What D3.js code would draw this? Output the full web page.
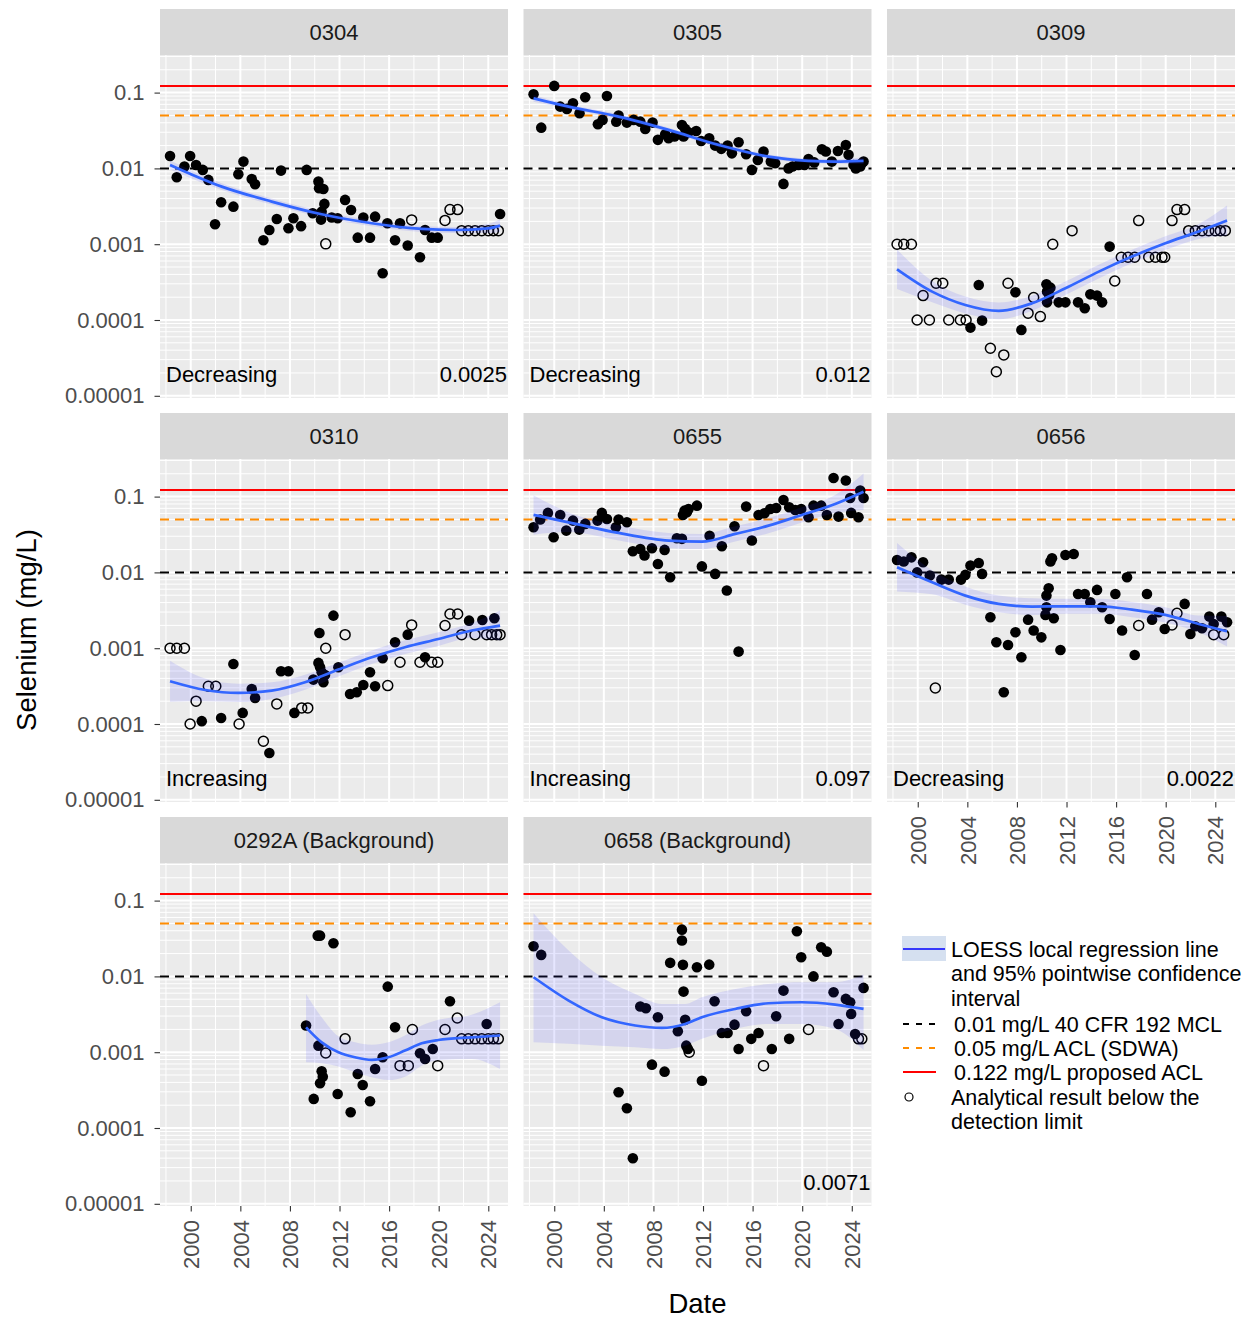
<!DOCTYPE html>
<html>
<head>
<meta charset="utf-8">
<script src="https://cdn.jsdelivr.net/npm/d3@7"></script>
<style>
body { margin: 0; background: #fff; }
text { font-family: "Liberation Sans", Arial, Helvetica, sans-serif; }
</style>
</head>
<body>
<script>
// ---- data: [decimal year, selenium mg/L, below detection limit (1) ] ----
var pts0304 = [[1998.33,0.0146,0],[1998.87,0.00764,0],[1999.49,0.0106,0],[1999.95,0.0146,0],[2000.43,0.0111,0],[2000.97,0.00955,0],[2001.42,0.00705,0],[2001.96,0.00183,0],[2002.45,0.00357,0],[2003.44,0.00313,0],[2003.84,0.00838,0],[2004.25,0.0123,0],[2004.92,0.00726,0],[2005.19,0.00618,0],[2005.86,0.00113,0],[2006.34,0.00154,0],[2006.94,0.00215,0],[2007.28,0.00935,0],[2007.88,0.00162,0],[2008.28,0.0022,0],[2008.9,0.00173,0],[2009.35,0.00955,0],[2009.84,0.00256,0],[2010.3,0.0067,0],[2010.35,0.00547,0],[2010.7,0.00536,0],[2010.78,0.0034,0],[2010.51,0.00211,0],[2010.56,0.00269,0],[2011.37,0.00225,0],[2011.85,0.0022,0],[2012.45,0.00384,0],[2012.93,0.00283,0],[2013.47,0.00122,0],[2013.92,0.00225,0],[2014.46,0.00122,0],[2014.87,0.00231,0],[2015.48,0.000414,0],[2015.86,0.00189,0],[2016.48,0.00113,0],[2016.88,0.00189,0],[2017.5,0.00096,0],[2018.49,0.000673,0],[2018.9,0.00154,0],[2019.44,0.00122,0],[2019.92,0.00122,0],[2024.95,0.0025,0],
  [2010.89,0.00101,1],[2017.82,0.00209,1],[2020.51,0.00206,1],[2020.91,0.00286,1],[2021.53,0.00286,1],[2021.85,0.00151,1],[2022.39,0.00151,1],[2022.93,0.00151,1],[2023.47,0.00151,1],[2024.0,0.00151,1],[2024.41,0.00151,1],[2024.81,0.00151,1]];

var pts0305 = [[1998.33,0.0951,0],[1998.95,0.0345,0],[2000.0,0.1225,0],[2000.48,0.0653,0],[2001.02,0.0609,0],[2001.51,0.0723,0],[2002.04,0.0534,0],[2002.5,0.0868,0],[2003.52,0.0382,0],[2003.9,0.0436,0],[2004.25,0.0903,0],[2005.0,0.0414,0],[2005.19,0.0498,0],[2005.86,0.0402,0],[2006.4,0.0436,0],[2006.94,0.0414,0],[2007.34,0.0332,0],[2007.93,0.0402,0],[2008.36,0.0238,0],[2008.95,0.0282,0],[2009.22,0.025,0],[2009.7,0.0263,0],[2010.3,0.0374,0],[2010.43,0.0263,0],[2010.56,0.0332,0],[2010.83,0.030,0],[2011.45,0.0312,0],[2011.85,0.023,0],[2012.5,0.025,0],[2012.98,0.020,0],[2013.47,0.0181,0],[2013.98,0.020,0],[2014.33,0.0158,0],[2014.87,0.0221,0],[2015.48,0.0154,0],[2015.94,0.00955,0],[2016.42,0.0129,0],[2016.88,0.0167,0],[2017.47,0.0123,0],[2017.82,0.0117,0],[2018.49,0.00624,0],[2018.9,0.01,0],[2019.22,0.0106,0],[2019.7,0.0111,0],[2020.19,0.0111,0],[2020.51,0.0133,0],[2020.97,0.012,0],[2021.59,0.0179,0],[2021.91,0.0167,0],[2022.39,0.0123,0],[2022.88,0.017,0],[2023.52,0.0204,0],[2023.74,0.0151,0],[2024.14,0.0111,0],[2024.33,0.01,0],[2024.68,0.0106,0],[2024.81,0.0117,0],[2024.95,0.0123,0]];

var pts0309 = [[1998.33,0.001,1],[1998.87,0.001,1],[1999.49,0.001,1],[2000.43,0.00021,1],[1999.95,0.0001,1],[2000.94,0.0001,1],[2001.48,0.000305,1],[2002.02,0.000305,1],[2002.5,0.0001,1],[2003.44,0.0001,1],[2003.9,0.0001,1],[2005.86,0.0000424,1],[2006.34,0.0000208,1],[2006.94,0.0000346,1],[2007.28,0.000305,1],[2008.9,0.000123,1],[2009.35,0.000198,1],[2009.89,0.000111,1],[2010.89,0.001,1],[2012.45,0.00151,1],[2015.89,0.000327,1],[2016.42,0.000673,1],[2016.96,0.000673,1],[2017.5,0.000673,1],[2017.82,0.00205,1],[2018.63,0.000673,1],[2019.17,0.000673,1],[2019.7,0.000673,1],[2019.92,0.000673,1],[2020.51,0.00205,1],[2020.91,0.00286,1],[2021.53,0.00286,1],[2021.85,0.00151,1],[2022.39,0.00151,1],[2022.93,0.00151,1],[2023.47,0.00151,1],[2024.0,0.00151,1],[2024.41,0.00151,1],[2024.81,0.00151,1],
  [2004.92,0.00029,0],[2005.19,0.0000982,0],[2004.25,0.0000794,0],[2007.88,0.000232,0],[2008.36,0.000074,0],[2010.38,0.000296,0],[2010.7,0.000267,0],[2010.43,0.000237,0],[2010.6,0.000214,0],[2010.43,0.000171,0],[2011.37,0.000171,0],[2011.91,0.000171,0],[2012.93,0.000171,0],[2013.47,0.000143,0],[2013.92,0.000218,0],[2014.46,0.00021,0],[2014.87,0.000171,0],[2015.48,0.00093,0]];

var pts0310 = [[1998.33,0.001,1],[1998.87,0.001,1],[1999.49,0.001,1],[1999.95,0.0001,1],[2000.43,0.0002,1],[2001.42,0.000315,1],[2002.02,0.000315,1],[2003.9,0.0001,1],[2005.86,0.0000592,1],[2006.94,0.000184,1],[2008.95,0.000163,1],[2009.44,0.000163,1],[2010.89,0.001,1],[2012.45,0.00151,1],[2015.89,0.000321,1],[2016.88,0.000652,1],[2017.82,0.00203,1],[2018.49,0.000652,1],[2019.44,0.000652,1],[2019.92,0.000652,1],[2020.51,0.00199,1],[2020.91,0.00283,1],[2021.53,0.00283,1],[2021.85,0.00151,1],[2022.93,0.00151,1],[2023.87,0.00151,1],[2024.27,0.00151,1],[2024.68,0.00151,1],[2024.95,0.00151,1],
  [2000.89,0.000109,0],[2002.45,0.00012,0],[2003.44,0.00062,0],[2004.19,0.00014,0],[2004.92,0.00029,0],[2005.19,0.000221,0],[2006.34,0.0000415,0],[2007.28,0.000497,0],[2007.88,0.000497,0],[2008.36,0.00014,0],[2009.89,0.000385,0],[2010.38,0.00159,0],[2010.3,0.00064,0],[2010.43,0.000561,0],[2010.56,0.000482,0],[2010.7,0.000356,0],[2010.83,0.000444,0],[2011.51,0.00269,0],[2011.91,0.000561,0],[2012.85,0.000249,0],[2013.39,0.000262,0],[2013.92,0.000327,0],[2014.46,0.000482,0],[2014.87,0.000315,0],[2015.48,0.000736,0],[2016.48,0.0012,0],[2017.5,0.00151,0],[2018.9,0.000759,0],[2022.45,0.00231,0],[2023.52,0.00236,0],[2024.49,0.00248,0]];

var pts0655 = [[1998.33,0.0394,0],[1998.87,0.0498,0],[1999.49,0.0609,0],[1999.95,0.0291,0],[2000.48,0.0573,0],[2000.97,0.0356,0],[2001.51,0.0482,0],[2002.02,0.0367,0],[2002.5,0.0436,0],[2003.49,0.0482,0],[2003.84,0.0609,0],[2004.25,0.0507,0],[2004.97,0.0394,0],[2005.19,0.0498,0],[2005.86,0.0458,0],[2006.34,0.019,0],[2006.94,0.0204,0],[2007.28,0.0167,0],[2007.88,0.0208,0],[2008.36,0.0129,0],[2008.9,0.0198,0],[2009.35,0.00863,0],[2009.89,0.0282,0],[2010.3,0.0277,0],[2010.38,0.0573,0],[2010.51,0.0653,0],[2010.7,0.0621,0],[2010.83,0.0687,0],[2011.51,0.076,0],[2011.91,0.012,0],[2012.53,0.0305,0],[2012.98,0.00955,0],[2013.52,0.0221,0],[2013.92,0.00576,0],[2014.54,0.0406,0],[2014.87,0.000902,0],[2015.48,0.0738,0],[2015.94,0.0263,0],[2016.48,0.0573,0],[2016.96,0.0603,0],[2017.42,0.0687,0],[2017.9,0.0708,0],[2018.49,0.0903,0],[2018.95,0.0723,0],[2019.44,0.0667,0],[2019.92,0.0687,0],[2020.51,0.0534,0],[2020.91,0.076,0],[2021.53,0.076,0],[2021.99,0.0573,0],[2022.53,0.176,0],[2022.93,0.0545,0],[2023.52,0.163,0],[2023.87,0.096,0],[2023.95,0.0609,0],[2024.54,0.0534,0],[2024.68,0.12,0],[2024.95,0.096,0]];

var pts0656 = [[1998.33,0.0146,0],[1998.87,0.0139,0],[1999.49,0.0158,0],[1999.95,0.01,0],[2000.43,0.0136,0],[2000.97,0.00908,0],[2001.91,0.00804,0],[2002.5,0.00804,0],[2003.49,0.00804,0],[2003.84,0.00927,0],[2004.25,0.0123,0],[2004.92,0.0133,0],[2005.19,0.00955,0],[2005.86,0.00256,0],[2006.34,0.0012,0],[2006.94,0.000262,0],[2007.28,0.0011,0],[2007.88,0.00162,0],[2008.36,0.000759,0],[2008.9,0.00238,0],[2009.35,0.00171,0],[2009.97,0.00139,0],[2010.3,0.00275,0],[2010.38,0.00347,0],[2010.38,0.00494,0],[2010.56,0.00618,0],[2010.97,0.00248,0],[2010.7,0.0139,0],[2010.83,0.0154,0],[2011.51,0.000948,0],[2011.91,0.017,0],[2012.58,0.0175,0],[2012.93,0.0052,0],[2013.47,0.0052,0],[2013.92,0.00404,0],[2014.46,0.00588,0],[2014.87,0.00347,0],[2015.48,0.00243,0],[2015.94,0.0052,0],[2016.48,0.00171,0],[2016.88,0.00863,0],[2017.5,0.000815,0],[2018.49,0.0052,0],[2018.9,0.00238,0],[2019.44,0.00298,0],[2019.92,0.00179,0],[2021.53,0.00384,0],[2021.99,0.00154,0],[2022.39,0.00195,0],[2022.93,0.00183,0],[2023.52,0.00261,0],[2023.87,0.00209,0],[2024.49,0.00261,0],[2024.95,0.0022,0],
  [2001.42,0.000299,1],[2017.82,0.00199,1],[2020.51,0.00203,1],[2020.91,0.00289,1],[2023.87,0.00151,1],[2024.68,0.00151,1]];

var pts0292A = [[2009.3,0.00225,0],[2010.24,0.0345,0],[2010.43,0.0345,0],[2011.51,0.0274,0],[2010.3,0.00122,0],[2010.56,0.00056,0],[2010.65,0.000476,0],[2010.43,0.000389,0],[2009.92,0.000242,0],[2011.85,0.000281,0],[2012.9,0.000161,0],[2013.47,0.000516,0],[2013.87,0.00037,0],[2014.46,0.000225,0],[2014.87,0.000601,0],[2015.48,0.000857,0],[2015.89,0.00733,0],[2016.48,0.00213,0],[2018.49,0.00097,0],[2018.9,0.000815,0],[2019.52,0.0011,0],[2020.91,0.0047,0],[2023.87,0.00236,0],
  [2010.89,0.000977,1],[2012.45,0.0015,1],[2016.88,0.000665,1],[2017.55,0.000665,1],[2017.88,0.00199,1],[2019.92,0.000665,1],[2020.51,0.00199,1],[2021.5,0.00283,1],[2021.85,0.0015,1],[2022.39,0.0015,1],[2022.93,0.0015,1],[2023.47,0.0015,1],[2024.0,0.0015,1],[2024.41,0.0015,1],[2024.81,0.0015,1]];

var pts0658 = [[1998.33,0.025,0],[1998.95,0.0192,0],[2005.19,0.000296,0],[2005.86,0.000182,0],[2006.34,0.0000399,0],[2006.94,0.004,0],[2007.39,0.0038,0],[2007.88,0.000685,0],[2008.36,0.00289,0],[2008.9,0.000554,0],[2009.35,0.0151,0],[2009.97,0.00189,0],[2010.3,0.0414,0],[2010.3,0.0297,0],[2010.38,0.0142,0],[2010.43,0.0063,0],[2010.56,0.00267,0],[2010.65,0.00122,0],[2010.78,0.0011,0],[2011.51,0.0132,0],[2011.91,0.000421,0],[2012.5,0.0143,0],[2012.93,0.0047,0],[2013.52,0.00179,0],[2013.98,0.00179,0],[2014.54,0.00231,0],[2014.87,0.0011,0],[2015.48,0.00347,0],[2015.89,0.0015,0],[2016.48,0.00179,0],[2017.55,0.0011,0],[2017.9,0.00298,0],[2018.49,0.0065,0],[2018.95,0.0015,0],[2019.57,0.0394,0],[2019.92,0.0179,0],[2020.91,0.01,0],[2021.53,0.0242,0],[2021.99,0.0212,0],[2022.53,0.00618,0],[2022.93,0.00236,0],[2023.52,0.00505,0],[2023.87,0.00456,0],[2023.95,0.0032,0],[2024.27,0.00174,0],[2024.95,0.00705,0],
  [2010.89,0.000997,1],[2016.88,0.000665,1],[2020.51,0.00199,1],[2024.54,0.0015,1],[2024.81,0.0015,1]];

// ---- LOESS fit: [year, fit, lower 95%, upper 95%] ----
var fit0304 = [[1998.33,0.0111,0.00967,0.0127],[2002.5,0.00575,0.00518,0.00638],[2006.53,0.00365,0.00333,0.0040],[2010.56,0.00248,0.00226,0.00272],[2014.6,0.00189,0.00172,0.00207],[2018.63,0.00159,0.00145,0.00174],[2021.32,0.00154,0.00141,0.00169],[2024.0,0.00162,0.00141,0.00186],[2024.95,0.00176,0.00145,0.00214]];
var fit0305 = [[1998.33,0.0841,0.0758,0.0933],[2001.16,0.0653,0.0609,0.070],[2005.19,0.0482,0.045,0.0517],[2009.22,0.0322,0.030,0.0345],[2013.25,0.0204,0.019,0.0219],[2017.28,0.0143,0.0133,0.0153],[2020.51,0.0126,0.0118,0.0135],[2022.66,0.0123,0.0115,0.0132],[2024.95,0.0126,0.0114,0.014]];
var fit0309 = [[1998.33,0.000467,0.000257,0.00085],[2001.16,0.000237,0.000171,0.000327],[2003.84,0.000158,0.000122,0.000204],[2006.53,0.000132,0.000102,0.00017],[2009.22,0.000166,0.000132,0.000209],[2011.91,0.000262,0.000213,0.000322],[2014.6,0.000435,0.000354,0.000535],[2017.28,0.000687,0.000559,0.000845],[2019.97,0.00103,0.000837,0.00127],[2022.66,0.00147,0.00117,0.00185],[2024.95,0.00205,0.00129,0.00325]];
var fit0310 = [[1998.33,0.000366,0.000197,0.000681],[2001.16,0.000281,0.000199,0.000397],[2003.84,0.000257,0.000195,0.000339],[2006.53,0.000276,0.000214,0.000356],[2009.22,0.000356,0.000283,0.000448],[2011.91,0.000522,0.000424,0.000642],[2014.6,0.000759,0.000617,0.000934],[2017.28,0.00103,0.000837,0.00127],[2019.97,0.00132,0.00107,0.00162],[2022.66,0.00171,0.00136,0.00215],[2024.95,0.00199,0.00126,0.00315]];
var fit0655 = [[1998.33,0.0573,0.0315,0.104],[2001.16,0.0458,0.034,0.0618],[2005.19,0.0332,0.0264,0.0418],[2009.22,0.0263,0.0209,0.0331],[2011.91,0.0255,0.0203,0.0321],[2014.6,0.0322,0.0256,0.0405],[2017.28,0.0414,0.0329,0.0521],[2019.97,0.0573,0.0455,0.0721],[2022.66,0.080,0.0607,0.105],[2024.95,0.116,0.0667,0.202]];
var fit0656 = [[1998.33,0.0117,0.0056,0.0244],[2001.16,0.00741,0.00513,0.0107],[2003.84,0.00494,0.00375,0.00651],[2006.53,0.00384,0.00298,0.00495],[2009.22,0.00354,0.00275,0.00456],[2011.91,0.00357,0.00284,0.00449],[2014.6,0.00357,0.00284,0.00449],[2017.28,0.00323,0.00257,0.00407],[2019.97,0.00275,0.00218,0.00346],[2022.66,0.00209,0.00162,0.00269],[2024.95,0.00167,0.00105,0.00265]];
var fit0292A = [[2009.3,0.00213,0.000736,0.00588],[2010.56,0.00135,0.000714,0.00289],[2011.91,0.000998,0.000646,0.00162],[2013.25,0.000857,0.000543,0.00135],[2014.6,0.000791,0.000467,0.00125],[2015.94,0.000857,0.00043,0.00135],[2017.28,0.00105,0.000476,0.00166],[2018.63,0.00131,0.000665,0.00225],[2019.97,0.00145,0.000791,0.00267],[2022.66,0.00157,0.000815,0.00313],[2024.95,0.00166,0.000601,0.00456]];
var fit0658 = [[1998.33,0.00975,0.00135,0.068],[2001.16,0.0048,0.00129,0.0219],[2003.84,0.00289,0.00122,0.00975],[2006.53,0.00225,0.00116,0.00588],[2008.68,0.00209,0.0011,0.00434],[2010.56,0.00236,0.00122,0.00434],[2011.91,0.00289,0.0015,0.00531],[2014.6,0.00372,0.00203,0.00684],[2017.28,0.00442,0.00236,0.00796],[2019.97,0.00456,0.00236,0.00838],[2022.66,0.00425,0.00203,0.00838],[2024.95,0.00372,0.00107,0.0106]];

var wells = ["0304", "0305", "0309", "0310", "0655", "0656", "0292A (Background)", "0658 (Background)"];
var samples = [pts0304, pts0305, pts0309, pts0310, pts0655, pts0656, pts0292A, pts0658];
var smooths = [fit0304, fit0305, fit0309, fit0310, fit0655, fit0656, fit0292A, fit0658];
var trendLabels = ["Decreasing", "Decreasing", "", "Increasing", "Increasing", "Decreasing", "", ""];
var valueLabels = ["0.0025", "0.012", "", "", "0.097", "0.0022", "", "0.0071"];

var limitValues = [0.01, 0.05, 0.122];
var limitColors = ["#000000", "#FF8C00", "#FF0000"];
var limitDash = ["9,6", "9,6", null];

var xTicks = [2000, 2004, 2008, 2012, 2016, 2020, 2024];
var xMinor = [1998, 2002, 2006, 2010, 2014, 2018, 2022];
var yTicks = [0.00001, 0.0001, 0.001, 0.01, 0.1];
var yTickLabels = ["0.00001", "0.0001", "0.001", "0.01", "0.1"];
var xLimits = [1997.52, 2025.59];
var yLimits = [Math.pow(10, -5.029), Math.pow(10, -0.504)];

var legendLabels = [
  ["LOESS local regression line", "and 95% pointwise confidence", "interval"],
  ["0.01 mg/L 40 CFR 192 MCL"],
  ["0.05 mg/L ACL (SDWA)"],
  ["0.122 mg/L proposed ACL"],
  ["Analytical result below the", "detection limit"]
];

// ---- layout ----
var chartW = 1248, chartH = 1320;
var panelW = 348, panelH = 343, stripH = 46;
var gridLeft = 160, gridTop = 9, colStep = 363.5, rowStep = 404;

var svg = d3.select("body").append("svg")
    .attr("width", chartW)
    .attr("height", chartH);

var x = d3.scaleLinear().domain(xLimits).range([0, panelW]);
var y = d3.scaleLog().domain(yLimits).range([panelH, 0]);

// minor log grid values 2..9 x 10^k
var yMinor = [];
for (var e = -6; e <= -1; e++) {
    for (var k = 2; k <= 9; k++) {
        var v = k * Math.pow(10, e);
        if (v > yLimits[0] && v < yLimits[1]) yMinor.push(v);
    }
}

var band = d3.area()
    .x(function (d) { return x(d[0]); })
    .y0(function (d) { return y(d[2]); })
    .y1(function (d) { return y(d[3]); })
    .curve(d3.curveMonotoneX);
var fitLine = d3.line()
    .x(function (d) { return x(d[0]); })
    .y(function (d) { return y(d[1]); })
    .curve(d3.curveMonotoneX);

svg.append("defs").append("clipPath").attr("id", "panel-clip")
    .append("rect").attr("width", panelW).attr("height", panelH);

wells.forEach(function (well, i) {
    var col = i % 3, row = Math.floor(i / 3);
    var g = svg.append("g")
        .attr("transform", "translate(" + (gridLeft + col * colStep) + "," + (gridTop + row * rowStep) + ")");

    // strip
    g.append("rect").attr("width", panelW).attr("height", stripH).attr("fill", "#D9D9D9");
    g.append("text")
        .attr("x", panelW / 2).attr("y", stripH / 2).attr("dy", "0.35em")
        .attr("text-anchor", "middle")
        .attr("fill", "#1A1A1A")
        .style("font-size", "22px")
        .text(well);

    var p = g.append("g").attr("transform", "translate(0," + stripH + ")");
    p.append("rect").attr("width", panelW).attr("height", panelH).attr("fill", "#EBEBEB");

    // grid
    p.selectAll(".hminor").data(yMinor).join("line")
        .attr("x1", 0).attr("x2", panelW)
        .attr("y1", function (d) { return y(d); }).attr("y2", function (d) { return y(d); })
        .attr("stroke", "#fff").attr("stroke-width", 1);
    p.selectAll(".vminor").data(xMinor).join("line")
        .attr("y1", 0).attr("y2", panelH)
        .attr("x1", function (d) { return x(d); }).attr("x2", function (d) { return x(d); })
        .attr("stroke", "#fff").attr("stroke-width", 1);
    p.selectAll(".hmajor").data(yTicks).join("line")
        .attr("x1", 0).attr("x2", panelW)
        .attr("y1", function (d) { return y(d); }).attr("y2", function (d) { return y(d); })
        .attr("stroke", "#fff").attr("stroke-width", 2);
    p.selectAll(".vmajor").data(xTicks).join("line")
        .attr("y1", 0).attr("y2", panelH)
        .attr("x1", function (d) { return x(d); }).attr("x2", function (d) { return x(d); })
        .attr("stroke", "#fff").attr("stroke-width", 2);

    // regulatory limits
    p.selectAll(".limit").data(limitValues).join("line")
        .attr("x1", 0).attr("x2", panelW)
        .attr("y1", function (d) { return y(d); }).attr("y2", function (d) { return y(d); })
        .attr("stroke", function (d, j) { return limitColors[j]; })
        .attr("stroke-width", 2)
        .attr("stroke-dasharray", function (d, j) { return limitDash[j]; });

    // samples
    p.selectAll(".pt").data(samples[i]).join("circle")
        .attr("cx", function (d) { return x(d[0]); })
        .attr("cy", function (d) { return y(d[1]); })
        .attr("r", function (d) { return d[2] ? 5 : 5.3; })
        .attr("fill", function (d) { return d[2] ? "none" : "#000"; })
        .attr("stroke", "#000")
        .attr("stroke-width", function (d) { return d[2] ? 1.5 : 0; });

    // loess band + line
    var s = p.append("g").attr("clip-path", "url(#panel-clip)");
    s.append("path").datum(smooths[i]).attr("d", band)
        .attr("fill", "#3333FF").attr("fill-opacity", 0.12);
    s.append("path").datum(smooths[i]).attr("d", fitLine)
        .attr("fill", "none").attr("stroke", "#3366FF").attr("stroke-width", 2.7);

    // annotations
    p.append("text").attr("x", 6).attr("y", panelH - 16)
        .style("font-size", "22px").attr("fill", "#000")
        .text(trendLabels[i]);
    p.append("text").attr("x", panelW - 1).attr("y", panelH - 16)
        .attr("text-anchor", "end")
        .style("font-size", "22px").attr("fill", "#000")
        .text(valueLabels[i]);

    // y axis on first column
    if (col === 0) {
        var ya = p.append("g")
            .call(d3.axisLeft(y).tickValues(yTicks)
                .tickFormat(function (d, j) { return yTickLabels[j]; })
                .tickSize(5.5).tickSizeOuter(0).tickPadding(10));
        ya.select(".domain").remove();
        ya.selectAll("line").attr("stroke", "#333").attr("stroke-width", 1.1);
        ya.selectAll("text").attr("fill", "#4D4D4D").style("font-size", "22px")
            .style("font-family", "'Liberation Sans', Arial, sans-serif");
    }

    // x axis at the bottom of each column
    if (i === 5 || i === 6 || i === 7) {
        var xa = p.append("g").attr("transform", "translate(0," + panelH + ")")
            .call(d3.axisBottom(x).tickValues(xTicks).tickFormat(d3.format("d"))
                .tickSize(5.5).tickSizeOuter(0));
        xa.select(".domain").remove();
        xa.selectAll("line").attr("stroke", "#333").attr("stroke-width", 1.1);
        xa.selectAll("text")
            .attr("transform", "rotate(-90)")
            .attr("text-anchor", "end")
            .attr("x", -14).attr("y", 0).attr("dy", "0.35em")
            .attr("fill", "#4D4D4D").style("font-size", "22px")
            .style("font-family", "'Liberation Sans', Arial, sans-serif");
    }
});

// axis titles
svg.append("text")
    .attr("transform", "translate(36,630) rotate(-90)")
    .attr("text-anchor", "middle")
    .style("font-size", "27.5px").attr("fill", "#000")
    .text("Selenium (mg/L)");
svg.append("text")
    .attr("x", 697.5).attr("y", 1313)
    .attr("text-anchor", "middle")
    .style("font-size", "27.5px").attr("fill", "#000")
    .text("Date");

// legend
var lg = svg.append("g");
lg.append("rect").attr("x", 902).attr("y", 936).attr("width", 44).attr("height", 25).attr("fill", "#D5E0F0");
lg.append("line").attr("x1", 903).attr("x2", 945).attr("y1", 949).attr("y2", 949)
    .attr("stroke", "#0000FF").attr("stroke-width", 1.5);
var keyY = [1024, 1048, 1072];
keyY.forEach(function (yy, j) {
    lg.append("line").attr("x1", 903).attr("x2", 936).attr("y1", yy).attr("y2", yy)
        .attr("stroke", limitColors[j]).attr("stroke-width", 2)
        .attr("stroke-dasharray", limitDash[j] ? "6,7" : null);
});
lg.append("circle").attr("cx", 909).attr("cy", 1097).attr("r", 4)
    .attr("fill", "none").attr("stroke", "#000").attr("stroke-width", 1.2);

var labelStart = [[951, 949], [954, 1024], [954, 1048], [954, 1072], [951, 1097]];
legendLabels.forEach(function (lines, j) {
    lines.forEach(function (t, m) {
        lg.append("text")
            .attr("x", labelStart[j][0]).attr("y", labelStart[j][1] + m * 24.5)
            .attr("dy", "0.35em")
            .style("font-size", "21.5px").attr("fill", "#000")
            .text(t);
    });
});
</script>
</body>
</html>
